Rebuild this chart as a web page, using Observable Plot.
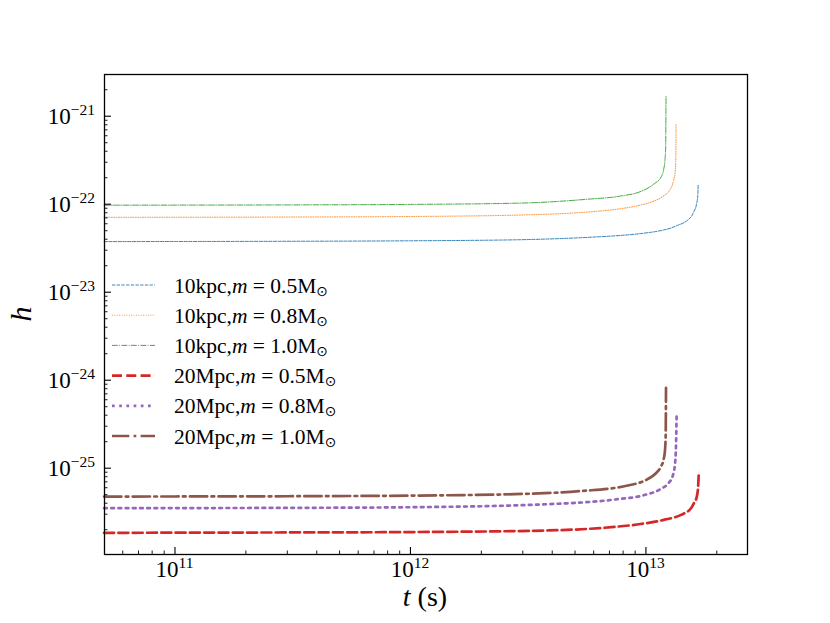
<!DOCTYPE html>
<html><head><meta charset="utf-8">
<script src="https://cdn.jsdelivr.net/npm/d3@7"></script>
<script src="https://cdn.jsdelivr.net/npm/@observablehq/plot@0.6"></script>
<style>
body{margin:0;background:#fff}
#chart svg{background:#fff}
</style>
</head><body><div id="chart"></div>
<script>
// ---- data ----
const dists = ["10kpc", "10kpc", "10kpc", "20Mpc", "20Mpc", "20Mpc"];
const masses = ["0.5", "0.8", "1.0", "0.5", "0.8", "1.0"];
const colors = ["#1f77b4", "#ff7f0e", "#2ca02c", "#d62728", "#9467bd", "#8c564b"];

const t_10kpc_05 = [5.0e10, 1e11, 3e11, 1e12, 2.94e12, 5.65e12, 7.83e12, 9.53e12, 1.19e13, 1.277e13, 1.36e13, 1.455e13, 1.52e13, 1.56e13, 1.60e13, 1.64e13, 1.66e13, 1.667e13];
const h_10kpc_05 = [3.76e-23, 3.77e-23, 3.79e-23, 3.84e-23, 3.95e-23, 4.2e-23, 4.42e-23, 4.64e-23, 5.1e-23, 5.36e-23, 5.75e-23, 6.2e-23, 6.75e-23, 7.25e-23, 8.3e-23, 1.0e-22, 1.25e-22, 1.67e-22];

const t_10kpc_08 = [5.0e10, 1e11, 3e11, 1e12, 2.94e12, 5.65e12, 7.83e12, 9.53e12, 1.085e13, 1.16e13, 1.277e13, 1.31e13, 1.333e13, 1.34e13, 1.343e13];
const h_10kpc_08 = [7.1e-23, 7.11e-23, 7.15e-23, 7.25e-23, 7.54e-23, 8.15e-23, 8.9e-23, 9.8e-23, 1.09e-22, 1.19e-22, 1.52e-22, 1.85e-22, 2.43e-22, 3.6e-22, 8.26e-22];

const t_10kpc_10 = [5.0e10, 1e11, 3e11, 1e12, 2.94e12, 5.65e12, 7.83e12, 9.53e12, 1.085e13, 1.16e13, 1.19e13, 1.205e13, 1.213e13, 1.217e13];
const h_10kpc_10 = [9.75e-23, 9.77e-23, 9.82e-23, 9.95e-23, 1.03e-22, 1.14e-22, 1.24e-22, 1.40e-22, 1.71e-22, 2.04e-22, 2.5e-22, 3.2e-22, 4.5e-22, 1.68e-21];

const t_20Mpc_05 = [5.0e10, 1e11, 3e11, 1e12, 3.83e12, 7.34e12, 9.5e12, 1.2e13, 1.41e13, 1.56e13, 1.60e13, 1.64e13, 1.665e13, 1.675e13];
const h_20Mpc_05 = [1.84e-26, 1.85e-26, 1.86e-26, 1.88e-26, 1.96e-26, 2.15e-26, 2.32e-26, 2.6e-26, 2.95e-26, 3.55e-26, 4.0e-26, 4.6e-26, 6.0e-26, 8.26e-26];

const t_20Mpc_08 = [5.0e10, 1e11, 3e11, 1e12, 3.83e12, 7.34e12, 9.84e12, 1.16e13, 1.25e13, 1.3e13, 1.325e13, 1.34e13, 1.35e13];
const h_20Mpc_08 = [3.51e-26, 3.52e-26, 3.54e-26, 3.6e-26, 3.9e-26, 4.4e-26, 4.95e-26, 5.84e-26, 6.8e-26, 8.2e-26, 1.05e-25, 1.6e-25, 3.9e-25];

const t_20Mpc_10 = [5.0e10, 1e11, 3e11, 1e12, 3e12, 5.3e12, 8.36e12, 1.016e13, 1.1e13, 1.16e13, 1.19e13, 1.205e13, 1.213e13, 1.217e13];
const h_20Mpc_10 = [4.76e-26, 4.77e-26, 4.8e-26, 4.88e-26, 5.1e-26, 5.5e-26, 6.35e-26, 7.5e-26, 8.7e-26, 1.05e-25, 1.27e-25, 1.6e-25, 2.3e-25, 8.2e-25];

const xMajor = [1e11, 1e12, 1e13];
const xMajorExp = ["11", "12", "13"];
const yMajor = [1e-25, 1e-24, 1e-23, 1e-22, 1e-21];
const yMajorExp = ["\u221225", "\u221224", "\u221223", "\u221222", "\u221221"];

// ---- styles ----
const widths = [0.9, 0.9, 0.9, 2.7, 2.7, 2.7];
const dashes = ["3.3,1.4", "0.9,1.5", "5.8,1.4,0.9,1.4", "10,4.3", "2.7,4.5", "17.3,4.3,2.7,4.3"];

const tArrays = [t_10kpc_05, t_10kpc_08, t_10kpc_10, t_20Mpc_05, t_20Mpc_08, t_20Mpc_10];
const hArrays = [h_10kpc_05, h_10kpc_08, h_10kpc_10, h_20Mpc_05, h_20Mpc_08, h_20Mpc_10];
const series = tArrays.map((ts, i) => ts.map((t, j) => ({t, h: hArrays[i][j]})));

// minor ticks
const xMinor = [];
for (const e of [10, 11, 12, 13]) for (let k = 2; k <= 9; k++) { const v = k * 10 ** e; if (v > 5.02e10 && v < 2.7e13) xMinor.push(v); }
const yMinor = [];
for (const e of [-26, -25, -24, -23, -22, -21]) for (let k = 2; k <= 9; k++) { const v = k * 10 ** e; if (v > 1.045e-26 && v < 2.98e-21) yMinor.push(v); }

const W = 830, H = 623;
const F = "'Liberation Serif','Times New Roman',serif";
const plot = Plot.plot({
  width: W, height: H,
  marginLeft: 104, marginRight: 83, marginTop: 74, marginBottom: 69,
  x: {type: "log", domain: [5.02e10, 2.70e13]},
  y: {type: "log", domain: [1.045e-26, 2.98e-21]},
  style: {fontFamily: F, background: "#fff"},
  marks: [
    ...series.map((d, i) => Plot.line(d, {x: "t", y: "h", stroke: colors[i], strokeWidth: widths[i], strokeDasharray: dashes[i], curve: "monotone-x"})),
    Plot.axisX({ticks: xMajor, tickSize: -7, tickFormat: () => "", strokeWidth: 1.1, label: null}),
    Plot.axisX({ticks: xMinor, tickSize: -3.5, tickFormat: () => "", strokeWidth: 0.9, label: null}),
    Plot.axisY({ticks: yMajor, tickSize: -7, tickFormat: () => "", strokeWidth: 1.1, label: null}),
    Plot.axisY({ticks: yMinor, tickSize: -3.5, tickFormat: () => "", strokeWidth: 0.9, label: null}),
    Plot.frame({stroke: "#000", strokeWidth: 1.3})
  ]
});
document.getElementById("chart").appendChild(plot);

const sx = plot.scale("x"), sy = plot.scale("y");
const svg = d3.select(plot);

// x tick labels
xMajor.forEach((v, i) => {
  const t = svg.append("text").attr("x", sx.apply(v)).attr("y", 577).attr("text-anchor", "middle")
    .attr("font-family", F).attr("font-size", 23).attr("fill", "#000");
  t.append("tspan").text("10");
  t.append("tspan").attr("font-size", 15.5).attr("dy", -9).text(xMajorExp[i]);
});
// y tick labels
yMajor.forEach((v, i) => {
  const t = svg.append("text").attr("x", 95).attr("y", sy.apply(v) + 8).attr("text-anchor", "end")
    .attr("font-family", F).attr("font-size", 23).attr("fill", "#000");
  t.append("tspan").text("10");
  t.append("tspan").attr("font-size", 15.5).attr("dy", -9).text(yMajorExp[i]);
});
// axis labels
svg.append("text").attr("transform", "translate(31,314) rotate(-90)").attr("text-anchor", "middle")
  .attr("font-family", F).attr("font-size", 30).attr("font-style", "italic").attr("fill", "#000").text("h");
const xl = svg.append("text").attr("x", 425).attr("y", 606).attr("text-anchor", "middle")
  .attr("font-family", F).attr("font-size", 28).attr("fill", "#000");
xl.append("tspan").attr("font-style", "italic").text("t");
xl.append("tspan").text(" (s)");

// legend
series.forEach((d, i) => {
  const y = 285 + i * 30.2;
  svg.append("line").attr("x1", 112).attr("x2", 155).attr("y1", y).attr("y2", y)
    .attr("stroke", colors[i]).attr("stroke-width", widths[i]).attr("stroke-dasharray", dashes[i]);
  const t = svg.append("text").attr("x", 174).attr("y", y + 7.5).attr("text-anchor", "start")
    .attr("font-family", F).attr("font-size", 21.5).attr("fill", "#000");
  t.append("tspan").text(dists[i] + ",");
  t.append("tspan").attr("font-style", "italic").text("m");
  t.append("tspan").text(" = " + masses[i] + "M");
  t.append("tspan").attr("font-size", 14).attr("dy", 3).attr("font-family", "'DejaVu Sans',sans-serif").text("\u2299");
});
</script>
</body></html>
